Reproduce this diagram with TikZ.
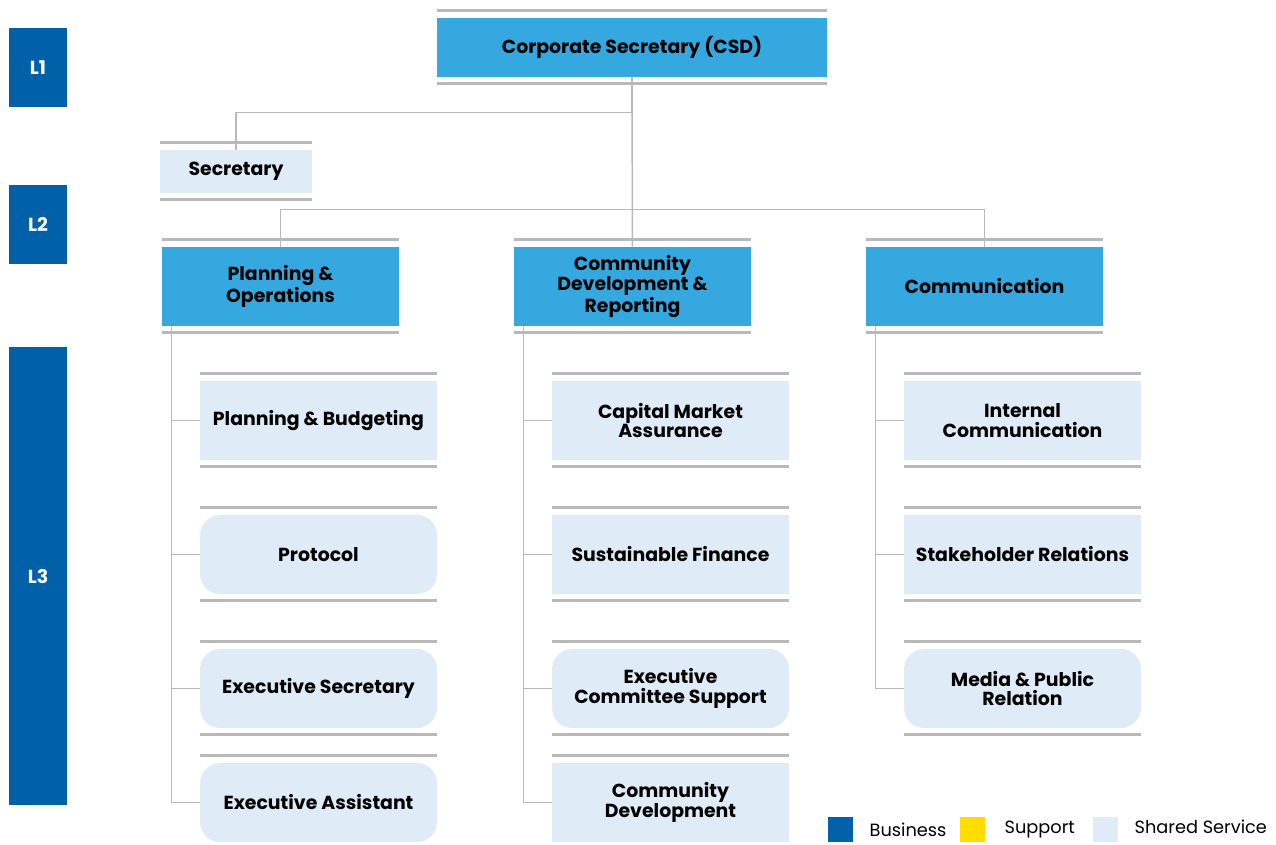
\documentclass[tikz,border=0pt]{standalone}
\usepackage{fontspec}
\setmainfont{Poppins}
\usetikzlibrary{positioning}
\definecolor{lvl}{HTML}{0061A8}
\definecolor{unitblue}{HTML}{35A8E0}
\definecolor{shared}{HTML}{DFEBF7}
\definecolor{rulegray}{HTML}{B9B9B9}
\definecolor{supp}{HTML}{FFDD00}

\begin{document}
\begin{tikzpicture}[x=0.02cm, y=-0.02cm, every node/.style={font=\fontsize{10.75}{11.3}\selectfont\bfseries}]
  \tikzset{lvbox/.style={fill=lvl, text=white, minimum width=1.16cm, inner sep=0pt},
           unitbox/.style={fill=unitblue, minimum width=4.74cm, minimum height=1.58cm, align=center, inner sep=0pt},
           shbox/.style={fill=shared, minimum width=4.74cm, minimum height=1.58cm, align=center, inner sep=0pt},
           rnd/.style={shbox, rounded corners=0.4cm},
           link/.style={draw=rulegray, line width=0.85pt},
           barline/.style={draw=rulegray, line width=1.7pt},
           legbox/.style={minimum size=0.5cm, inner sep=0pt},
           legtxt/.style={font=\fontsize{10.1}{11}\selectfont\mdseries, anchor=west, inner sep=0pt}}
  \useasboundingbox (0,0) rectangle (1276,845);
  % level markers
  \node[lvbox, minimum height=1.58cm] (l1) at (38,67.5) {L1};
  \node[lvbox, minimum height=1.58cm] (l2) at (38,224.5) {L2};
  \node[lvbox, minimum height=9.16cm] (l3) at (38,576) {L3};
  % top
  \node[unitbox, minimum width=7.8cm, minimum height=1.18cm] (csd) at (632,47.5) {Corporate Secretary (CSD)};
  \node[shbox, minimum width=3.04cm, minimum height=0.86cm] (sec) at (236,171.5) {Secretary};
  % divisions
  \node[unitbox] (pno) at (280.5,286.5) {Planning \&\\Operations};
  \node[unitbox] (cdr) at (632.5,286.5) {Community\\Development \&\\Reporting};
  \node[unitbox] (com) at (984.5,286.5) {Communication};
  % units
  \node[shbox] (pb)   at (318.5,420.5) {Planning \& Budgeting};
  \node[rnd]   (prot) at (318.5,554.5) {Protocol};
  \node[rnd]   (es)   at (318.5,688.5) {Executive Secretary};
  \node[rnd]   (ea)   at (318.5,802.5) {Executive Assistant};
  \node[shbox] (cma)  at (670.5,420.5) {Capital Market\\Assurance};
  \node[shbox] (sf)   at (670.5,554.5) {Sustainable Finance};
  \node[rnd]   (ecs)  at (670.5,688.5) {Executive\\Committee Support};
  \node[shbox] (cd)   at (670.5,802.5) {Community\\Development};
  \node[shbox] (ic)   at (1022.5,420.5) {Internal\\Communication};
  \node[shbox] (sr)   at (1022.5,554.5) {Stakeholder Relations};
  \node[rnd]   (mpr)  at (1022.5,688.5) {Media \& Public\\Relation};
  % grey bars
  \foreach \n in {csd,sec,pno,cdr,com,pb,prot,es,cma,sf,ecs,ic,sr,mpr} {
    \draw[barline] ([yshift=0.15cm]\n.north west) -- ([yshift=0.15cm]\n.north east);
    \draw[barline] ([yshift=-0.13cm]\n.south west) -- ([yshift=-0.13cm]\n.south east);
  }
  \foreach \n in {ea,cd}
    \draw[barline] ([yshift=0.15cm]\n.north west) -- ([yshift=0.15cm]\n.north east);
  % links
  \draw[link] (csd) -- (cdr);
  \draw[link] (sec.north) -- ++(0,-37) -| (csd.south);
  \draw[link] (pno.north) -- ++(0,-37) -| (com.north);
  \foreach \p/\c in {pno/pb,pno/prot,pno/es,pno/ea,cdr/cma,cdr/sf,cdr/ecs,cdr/cd,com/ic,com/sr,com/mpr}
    \draw[link] ([xshift=0.2cm]\p.south west) |- (\c.west);
  % legend
  \node[legbox, fill=lvl] (bus) at (840.5,829.5) {};
  \node[legtxt, right=0.32cm of bus] (bust) {Business};
  \node[legbox, fill=supp] (sup) at (972.5,829.5) {};
  \node[legtxt, right=0.38cm of sup] (supt) {Support};
  \node[legbox, fill=shared] (shs) at (1105.5,829.5) {};
  \node[legtxt, right=0.32cm of shs, yshift=0.06cm] (shst) {Shared Service};
\end{tikzpicture}
\end{document}
